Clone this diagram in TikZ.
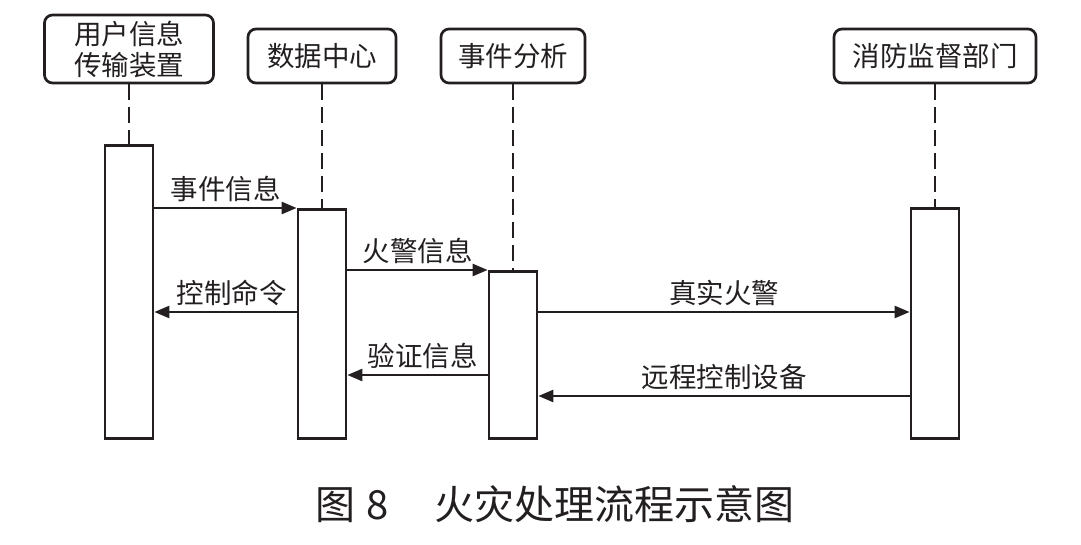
\documentclass[tikz,border=0pt]{standalone}
\usepackage{fontspec}
\setmainfont{Noto Sans CJK SC}
\usetikzlibrary{arrows.meta}
\definecolor{ink}{HTML}{231F20}
\begin{document}
\begin{tikzpicture}[x=1pt,y=-1pt,color=ink,line width=2.3pt,
	every node/.style={font=\fontsize{27.5}{31}\selectfont},
	actor/.style={draw,rounded corners=8pt,line width=2.7pt,minimum height=54pt,align=center,inner sep=0pt},
	act/.style={draw,line width=2.7pt,minimum width=48pt,inner sep=0pt,anchor=north},
	life/.style={dash pattern=on 16pt off 7pt},
	msg/.style={-{Triangle[length=15pt,width=12pt]}},
	lbl/.style={above=2pt,inner sep=3pt}]
\useasboundingbox (0,0) rectangle (1081,545);
\node[actor,minimum width=169pt,minimum height=68pt] (user) at (129,49) {用户信息\\传输装置};
\node[actor,minimum width=148pt] (data) at (322,56) {数据中心};
\node[actor,minimum width=144pt] (event) at (513,56) {事件分析};
\node[actor,minimum width=202pt] (fire) at (935,56) {消防监督部门};
\node[act,minimum height=293pt] (a1) at (129,144) {};
\node[act,minimum height=229pt] (a2) at (322,208) {};
\node[act,minimum height=167pt] (a3) at (513,270) {};
\node[act,minimum height=230pt] (a4) at (935,207) {};
\foreach \p/\a in {user/a1,data/a2,event/a3,fire/a4}
	\draw[life] (\p) -- (\a);
\coordinate (m1) at (0,208);
\coordinate (m2) at (0,270);
\coordinate (m3) at (0,312);
\coordinate (m4) at (0,375);
\coordinate (m5) at (0,396);
\draw[msg] (a1.east |- m1) -- node[lbl] {事件信息} (a2.west |- m1);
\draw[msg] (a2.east |- m2) -- node[lbl] {火警信息} (a3.west |- m2);
\draw[msg] (a2.west |- m3) -- node[lbl,xshift=6pt] {控制命令} (a1.east |- m3);
\draw[msg] (a3.east |- m3) -- node[lbl] {真实火警} (a4.west |- m3);
\draw[msg] (a3.west |- m4) -- node[lbl,xshift=5pt] {验证信息} (a2.east |- m4);
\draw[msg] (a4.west |- m5) -- node[lbl] {远程控制设备} (a3.east |- m5);
\node (cap) at (555,504) {\fontsize{40}{40}\selectfont 图\hspace{11pt}8\hspace{45pt}火灾处理流程示意图};
\end{tikzpicture}
\end{document}
